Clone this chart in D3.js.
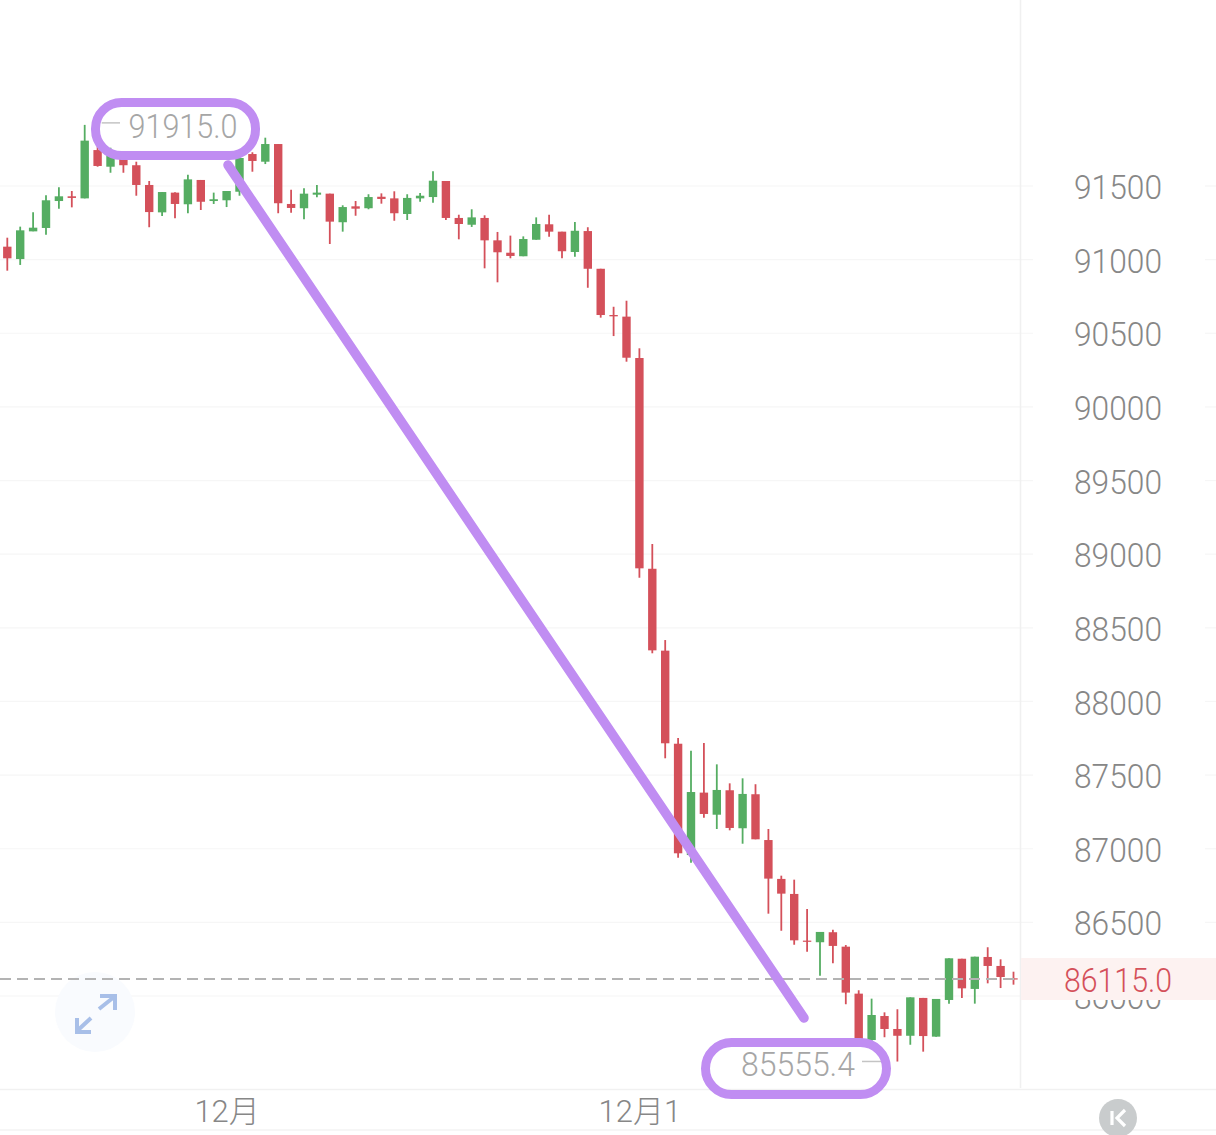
<!DOCTYPE html>
<html><head><meta charset="utf-8">
<style>html,body{margin:0;padding:0;background:#fff;overflow:hidden}svg{display:block}
text{font-family:Roboto,"Noto Sans CJK SC",sans-serif;font-weight:300}</style>
<script src="https://cdn.jsdelivr.net/npm/d3@7/dist/d3.min.js"></script></head>
<body><svg id="c" width="1216" height="1135"></svg>
<script>
const opens=[91088,91004,91192,91215,91398,91430,91416,91744,91631,91710,91641,91507,91321,91455,91376,91541,91398,91403,91461,91717,91665,91785,91378,91349,91441,91448,91254,91362,91349,91427,91416,91310,91416,91425,91534,91283,91237,91283,91131,91047,91023,91135,91240,91190,91052,91194,90938,90624,90613,90332,88901,88345,87713,86957,87381,87231,87397,87139,87370,87059,86795,86693,86376,86365,86433,86335,86016,85701,85864,85776,85730,85987,85724,85973,86253,86048,86265,86204,86120];
const closes=[91009,91199,91217,91403,91430,91419,91808,91636,91710,91641,91507,91323,91459,91378,91545,91393,91410,91466,91690,91670,91785,91383,91351,91448,91455,91258,91357,91346,91425,91412,91315,91419,91434,91536,91283,91242,91287,91131,91050,91025,91140,91242,91190,91057,91196,90938,90624,90615,90334,88904,88347,87716,86969,87385,87236,87399,87141,87372,87064,86797,86695,86378,86369,86435,86340,86023,85701,85871,85776,85730,85991,85728,85980,86256,86052,86267,86204,86129,86115];
const highs=[91149,91224,91321,91437,91491,91466,91915,91770,91760,91730,91665,91534,91459,91457,91577,91541,91455,91466,91744,91729,91828,91785,91475,91484,91507,91448,91369,91398,91444,91450,91464,91444,91452,91600,91534,91305,91342,91301,91188,91163,91158,91287,91305,91190,91256,91220,90938,90680,90721,90398,89069,88417,87752,87666,87718,87573,87444,87478,87438,87134,86817,86790,86591,86435,86450,86346,86039,85982,85889,85910,85991,85987,85980,86256,86253,86267,86331,86249,86165];
const lows=[90925,90964,91192,91169,91346,91355,91416,91631,91590,91590,91434,91220,91296,91281,91315,91337,91378,91357,91434,91597,91649,91315,91319,91274,91423,91106,91190,91298,91342,91380,91264,91269,91393,91387,91269,91138,91222,90941,90846,91009,91023,91135,91156,91009,91020,90809,90606,90481,90307,88840,88327,87614,86939,86905,87211,87134,87125,87034,87064,86559,86443,86348,86301,86138,86222,85944,85688,85680,85720,85555,85669,85622,85724,85948,85987,85948,86086,86054,86077];
const priceTicks=[91500,91000,90500,90000,89500,89000,88500,88000,87500,87000,86500,86000];
const dateTicks=[17,49];
const dateLabels=["12月","12月1"];
const lastPrice=86115.0, maxPrice=91915.0, minPrice=85555.4;

const RED="#d4505a",GREEN="#55ad62",PURPLE="#c08df2";
const svg=d3.select("#c");
const x=d3.scaleLinear().domain([0,opens.length-1]).range([7.3,1013.5]);
const y=d3.scaleLinear().domain([91500,86000]).range([186,996]);

// grid
svg.append("g").selectAll("line").data(priceTicks).join("line")
  .attr("x1",0).attr("x2",1033).attr("y1",d=>y(d)).attr("y2",d=>y(d))
  .attr("stroke","#f6f6f6").attr("stroke-width",1.2);
svg.append("g").selectAll("line").data(priceTicks).join("line")
  .attr("x1",1205).attr("x2",1216).attr("y1",d=>y(d)).attr("y2",d=>y(d))
  .attr("stroke","#f6f6f6").attr("stroke-width",1.2);
svg.append("line").attr("x1",1020.5).attr("x2",1020.5).attr("y1",0).attr("y2",1088).attr("stroke","#f0f0f0").attr("stroke-width",1.5);
svg.append("line").attr("x1",0).attr("x2",1216).attr("y1",1089.5).attr("y2",1089.5).attr("stroke","#f1f1f1").attr("stroke-width",1.5);
svg.append("line").attr("x1",0).attr("x2",1216).attr("y1",1130).attr("y2",1130).attr("stroke","#f3f3f3").attr("stroke-width",1.5);

// expand icon
const ic=svg.append("g");
ic.append("circle").attr("cx",95).attr("cy",1012).attr("r",40).attr("fill","#f9fbfe");
ic.append("path").attr("d","M99 1009L114 997M100 996H115V1010M91 1018L77 1031M77 1018V1032H91")
  .attr("fill","none").attr("stroke","#a8bfe8").attr("stroke-width",4);

// price axis
const yAxis=d3.axisRight(y).tickValues(priceTicks).tickSize(0).tickPadding(0).tickFormat(d3.format("d"));
const ya=svg.append("g").attr("transform","translate(1118,0)").call(yAxis);
ya.select(".domain").remove();
ya.selectAll("text").attr("text-anchor","middle").attr("x",0).attr("dy","0.38em").attr("font-size",33)
  .attr("fill","#878787").attr("textLength",88).attr("lengthAdjust","spacingAndGlyphs");

// date axis
const xAxis=d3.axisBottom(x).tickValues(dateTicks).tickSize(0).tickPadding(0).tickFormat((d,i)=>dateLabels[i]);
const xa=svg.append("g").attr("transform","translate(0,1100)").call(xAxis);
xa.select(".domain").remove();
xa.selectAll("text").attr("font-size",31).attr("fill","#878787");

// candles
const idx=d3.range(opens.length);
const col=i=>closes[i]>=opens[i]?GREEN:RED;
const cg=svg.append("g");
cg.selectAll("line").data(idx).join("line")
  .attr("x1",i=>x(i)).attr("x2",i=>x(i)).attr("y1",i=>y(highs[i])).attr("y2",i=>y(lows[i]))
  .attr("stroke",col).attr("stroke-width",1.8);
cg.selectAll("rect").data(idx).join("rect")
  .attr("x",i=>x(i)-4.2).attr("width",8.4)
  .attr("y",i=>y(Math.max(opens[i],closes[i])))
  .attr("height",i=>Math.max(1.2,Math.abs(y(opens[i])-y(closes[i]))))
  .attr("fill",col);

// last price line + tag
svg.append("line").attr("x1",0).attr("x2",1020).attr("y1",y(lastPrice)).attr("y2",y(lastPrice))
  .attr("stroke","#b3b3b3").attr("stroke-width",2).attr("stroke-dasharray","11 6");
svg.append("rect").attr("x",1021).attr("y",958).attr("width",195).attr("height",42).attr("fill","#fdf2f1");
svg.append("text").attr("x",1118).attr("y",980).attr("dy","0.36em").attr("text-anchor","middle")
  .attr("font-size",33).attr("fill",RED).attr("textLength",108).attr("lengthAdjust","spacingAndGlyphs")
  .text(d3.format(".1f")(lastPrice));

// extreme labels
svg.append("line").attr("x1",x(6)+17).attr("x2",120).attr("y1",y(maxPrice)-2).attr("y2",y(maxPrice)-2).attr("stroke","#c4c4c4").attr("stroke-width",1.5);
svg.append("text").attr("x",183).attr("y",126).attr("dy","0.36em").attr("text-anchor","middle")
  .attr("font-size",33).attr("fill","#a6a6a6").attr("textLength",109).attr("lengthAdjust","spacingAndGlyphs")
  .text(d3.format(".1f")(maxPrice));
svg.append("line").attr("x1",862).attr("x2",x(69)-15).attr("y1",y(minPrice)).attr("y2",y(minPrice)).attr("stroke","#c4c4c4").attr("stroke-width",1.5);
svg.append("text").attr("x",798).attr("y",1064).attr("dy","0.36em").attr("text-anchor","middle")
  .attr("font-size",33).attr("fill","#a6a6a6").attr("textLength",114).attr("lengthAdjust","spacingAndGlyphs")
  .text(d3.format(".1f")(minPrice));

// hand-drawn annotation
const an=svg.append("g").attr("fill","none").attr("stroke",PURPLE).attr("stroke-width",9);
an.append("rect").attr("x",95.5).attr("y",102.5).attr("width",160).attr("height",53).attr("rx",26);
an.append("rect").attr("x",705.5).attr("y",1042.5).attr("width",181).attr("height",52).attr("rx",26);
an.append("line").attr("x1",228).attr("y1",165).attr("x2",804).attr("y2",1018).attr("stroke-linecap","round").attr("stroke-width",9.5);

// K button
const k=svg.append("g");
k.append("circle").attr("cx",1118).attr("cy",1118).attr("r",19).attr("fill","#c9cccd");
k.append("path").attr("d","M1112 1111V1125M1125 1110L1117 1118L1125 1126").attr("fill","none").attr("stroke","#fff").attr("stroke-width",3.2);
</script></body></html>
